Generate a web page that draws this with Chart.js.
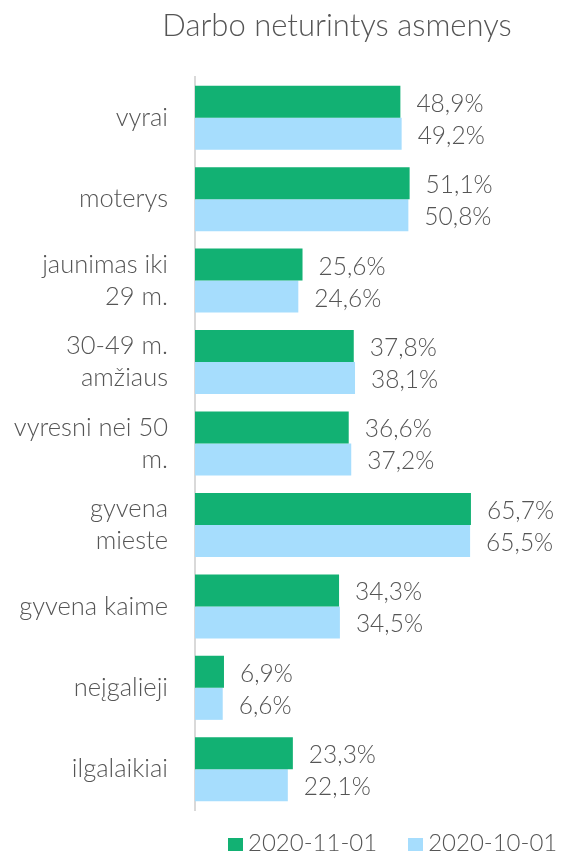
<!DOCTYPE html>
<html>
<head>
<meta charset="utf-8">
<script src="https://cdn.jsdelivr.net/npm/chart.js@4"></script>
<style>
    html, body { margin: 0; padding: 0; background: #fff; }
    #wrap { position: relative; width: 563px; height: 851px; overflow: hidden; font-family: Lato, sans-serif; font-weight: 300; color: #555; }
    #title { position: absolute; left: 0; width: 674px; top: 6px; text-align: center; font-size: 31px; line-height: 1.2; }
    #legend { position: absolute; top: 827px; left: 228px; font-size: 24px; white-space: nowrap; }
    #legend span.box { display: inline-block; width: 15px; height: 15px; margin-right: 5px; vertical-align: middle; }
    #legend span.item { margin-right: 31px; }
</style>
</head>
<body>
<div id="wrap">
    <canvas id="chart" width="563" height="851"></canvas>
    <div id="title">Darbo neturintys asmenys</div>
    <div id="legend"></div>
</div>
<script>
const categories = ['vyrai', 'moterys', ['jaunimas iki', '29 m.'], ['30-49 m.', 'amžiaus'], ['vyresni nei 50', 'm.'], ['gyvena', 'mieste'], 'gyvena kaime', 'neįgalieji', 'ilgalaikiai'];
const seriesNames = ['2020-11-01', '2020-10-01'];
const novValues = [48.9, 51.1, 25.6, 37.8, 36.6, 65.7, 34.3, 6.9, 23.3];
const octValues = [49.2, 50.8, 24.6, 38.1, 37.2, 65.5, 34.5, 6.6, 22.1];
const colors = ['#12b173', '#a6ddfd'];

const textColor = '#555';
const fontFamily = 'Lato, sans-serif';

// value labels at the end of each bar
const valueLabels = {
    id: 'valueLabels',
    afterDatasetsDraw(chart) {
        const ctx = chart.ctx;
        ctx.save();
        ctx.font = '300 24.5px ' + fontFamily;
        ctx.fillStyle = textColor;
        ctx.textBaseline = 'middle';
        chart.data.datasets.forEach((ds, i) => {
            chart.getDatasetMeta(i).data.forEach((bar, j) => {
                const txt = ds.data[j].toFixed(1).replace('.', ',') + '%';
                ctx.fillText(txt, bar.x + 16, bar.y + 2);
            });
        });
        ctx.restore();
    }
};

new Chart(document.getElementById('chart').getContext('2d'), {
    type: 'bar',
    data: {
        labels: categories,
        datasets: [
            { label: seriesNames[0], data: novValues, backgroundColor: colors[0] },
            { label: seriesNames[1], data: octValues, backgroundColor: colors[1] }
        ]
    },
    options: {
        indexAxis: 'y',
        responsive: false,
        animation: false,
        categoryPercentage: 0.786,
        barPercentage: 1,
        layout: { padding: { top: 77, right: 32, bottom: 41, left: 0 } },
        plugins: {
            legend: { display: false },
            title: { display: false },
            tooltip: { enabled: false }
        },
        scales: {
            x: { display: false, min: 0, max: 80 },
            y: {
                afterFit(scale) { scale.width = 195; },
                grid: { display: false },
                border: { display: true, color: '#d9d9d9', width: 2 },
                ticks: {
                    color: textColor,
                    padding: 19,
                    font: { family: fontFamily, weight: '300', size: 25.5, lineHeight: 1.25 }
                }
            }
        }
    },
    plugins: [valueLabels]
});

// legend
const legendEl = document.getElementById('legend');
seriesNames.forEach((name, i) => {
    const item = document.createElement('span');
    item.className = 'item';
    item.innerHTML = `<span class="box" style="background:${colors[i]}"></span>${name}`;
    legendEl.appendChild(item);
});
</script>
</body>
</html>
